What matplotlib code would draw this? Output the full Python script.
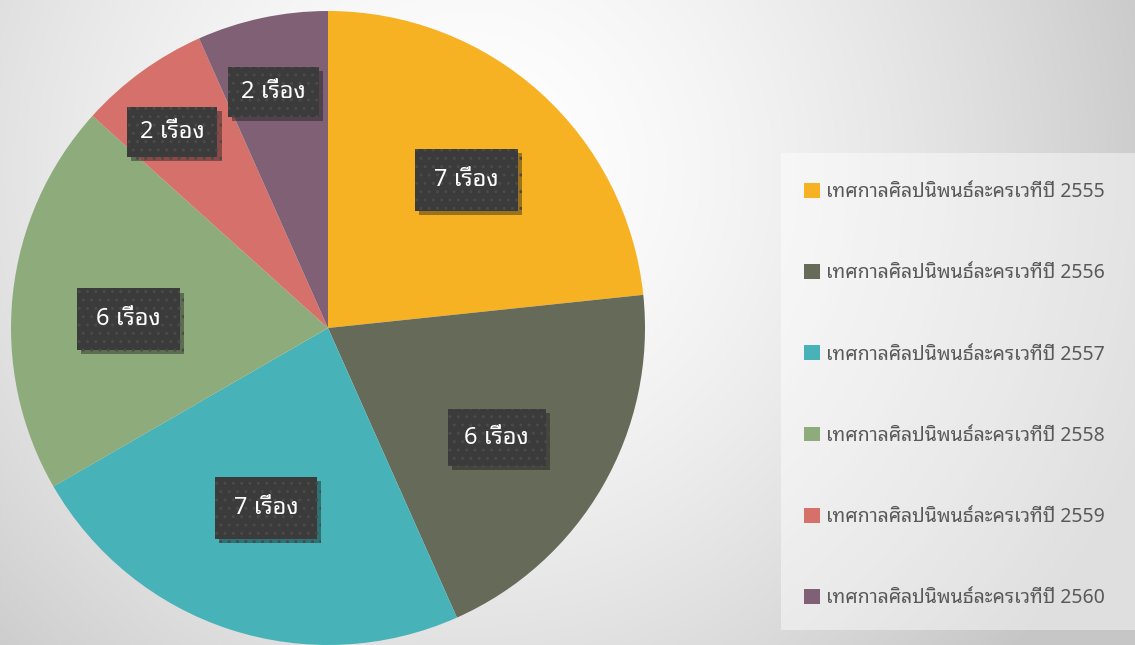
import matplotlib.pyplot as plt
import matplotlib.patheffects as pe
from matplotlib.patches import Rectangle
import numpy as np

plt.rcParams['font.family'] = ['Noto Sans Thai Looped', 'Noto Sans', 'DejaVu Sans']

labels = ['เทศกาลศิลปนิพนธ์ละครเวทีปี 2555', 'เทศกาลศิลปนิพนธ์ละครเวทีปี 2556',
          'เทศกาลศิลปนิพนธ์ละครเวทีปี 2557', 'เทศกาลศิลปนิพนธ์ละครเวทีปี 2558',
          'เทศกาลศิลปนิพนธ์ละครเวทีปี 2559', 'เทศกาลศิลปนิพนธ์ละครเวทีปี 2560']
counts = [7, 6, 7, 6, 2, 2]
unit = 'เรื่อง'
colors = ['#F6B223', '#666A58', '#47B3B8', '#8EAB7C', '#D6706A', '#7F6075']
# label placement: fraction of radius, small angle nudge (deg), box padding
label_dist = [0.64, 0.635, 0.60, 0.63, 0.79, 0.765]
label_nudge = [-1, -3, -1, 3.5, 2.5, 1]
label_pad = [0.8, 0.7, 0.8, 0.8, 0.55, 0.55]

W, H = 1135, 645
fig = plt.figure(figsize=(W / 100, H / 100), dpi=100)

# background radial gradient
bg = fig.add_axes([0, 0, 1, 1], zorder=-1)
yy, xx = np.mgrid[0:H, 0:W]
d = np.hypot(xx - 470, yy - 170) / 720
g = np.clip(1.0 - 0.22 * d ** 1.6, 0.78, 1.0)
bg.imshow(np.dstack([g, g, g]), extent=[0, W, H, 0], aspect='auto')
bg.axis('off')

# legend panel
fig.patches.append(Rectangle((781 / W, 1 - 630 / H), (W - 781) / W, (630 - 153) / H,
                             transform=fig.transFigure, facecolor='white', alpha=0.45,
                             linewidth=0, zorder=0))

ax = fig.add_axes([11 / W, 0.0, 634 / W, 634 / H])
wedges, _ = ax.pie(counts, colors=colors, startangle=90, counterclock=False,
                   radius=1.0, wedgeprops=dict(linewidth=0))
ax.set_xlim(-1, 1)
ax.set_ylim(-1, 1)
ax.set_aspect('equal')

for w, n, r, dn, p in zip(wedges, counts, label_dist, label_nudge, label_pad):
    ang = np.deg2rad((w.theta1 + w.theta2) / 2 + dn)
    t = ax.text(r * np.cos(ang), r * np.sin(ang), f'{n} {unit}', ha='center', va='center',
                color='white', fontsize=17, fontweight='semibold',
                bbox=dict(boxstyle=f'square,pad={p}', facecolor='#3B3B3B', edgecolor='#4A4A4A',
                          linewidth=0, hatch='..'))
    t.get_bbox_patch().set_path_effects([pe.SimplePatchShadow(offset=(3, -3), alpha=0.4),
                                         pe.Normal()])

leg = fig.legend(wedges, labels, loc='upper left', bbox_to_anchor=(804 / W, 1 - 182 / H),
                 frameon=False, fontsize=14, labelcolor='#595959', handlelength=0.8,
                 handleheight=0.8, handletextpad=0.35, labelspacing=3.15, borderpad=0,
                 borderaxespad=0)

fig.savefig('out.png', dpi=100)
